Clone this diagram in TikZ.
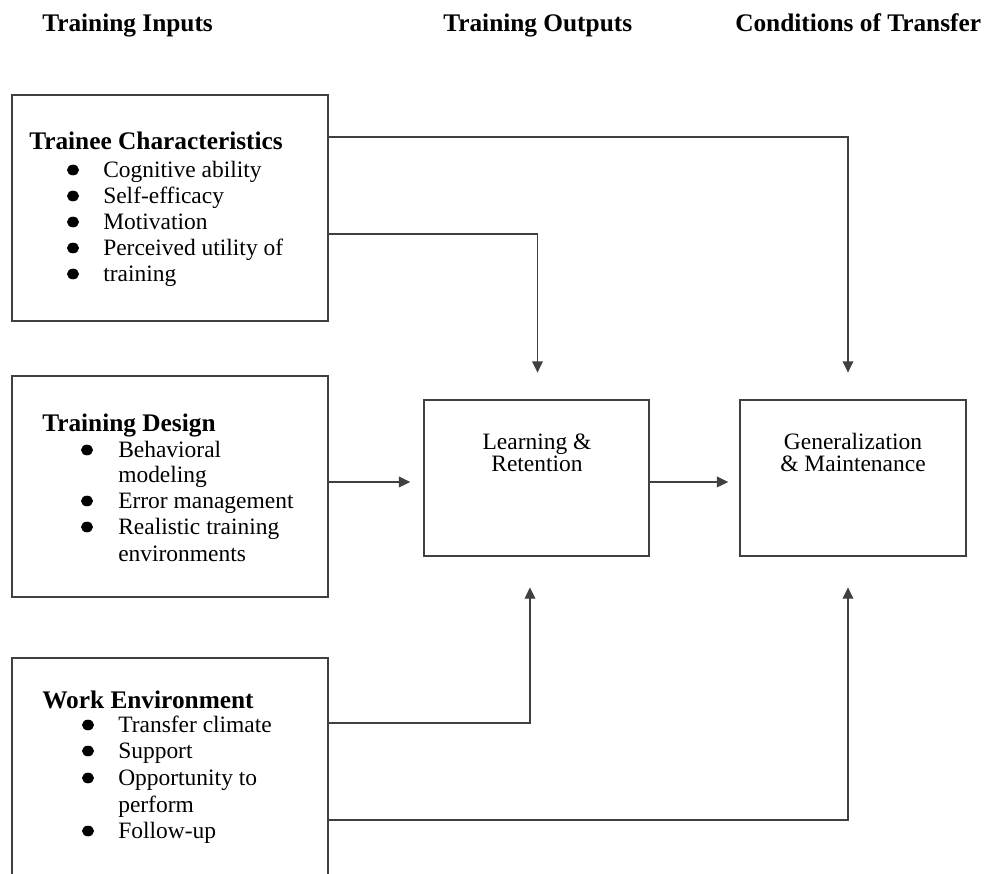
\documentclass[tikz,border=0pt]{standalone}
\usepackage{fontspec}
\setmainfont{Liberation Serif}
\usetikzlibrary{arrows.meta,shapes.geometric}
\begin{document}
\begin{tikzpicture}[x=0.75pt,y=-0.75pt,
  box/.style={draw=black!75, line width=1.1pt, inner sep=0pt},
  link/.style={draw=black!75, line width=1.1pt},
  arr/.style={link, -{Triangle[length=8.5pt,width=8pt]}},
  head/.style={anchor=base west, inner sep=0pt, font=\fontsize{19}{21}\selectfont\bfseries},
  itemtext/.style={anchor=base west, inner sep=0pt, font=\fontsize{17.6}{19.4}\selectfont},
  midtext/.style={anchor=base, inner sep=0pt, font=\fontsize{17.6}{19.4}\selectfont},
  dot/.style={ellipse, fill=black, inner sep=0pt, minimum width=9pt, minimum height=8pt}
]
\clip (0,0) rectangle (986,874);
\fill[white] (0,0) rectangle (986,874);

% column headings
\node[head] (h1) at (42,32) {Training Inputs};
\node[head] (h2) at (443,32) {Training Outputs};
\node[head] (h3) at (735,32) {Conditions of Transfer};

% input boxes
\node[box, minimum width=237pt, minimum height=169.5pt] (tc) at (170,208) {};
\node[box, minimum width=237pt, minimum height=165.75pt] (td) at (170,486.5) {};
\node[box, minimum width=237pt, minimum height=181.5pt] (we) at (170,779) {};

% output boxes
\node[box, minimum width=168.75pt, minimum height=117pt] (lr) at (536.5,478) {};
\node[box, minimum width=169.5pt, minimum height=117pt] (gm) at (853,478) {};

% Trainee Characteristics
\node[head] (tct) at (29,150) {Trainee Characteristics};
\node[dot] (b11) at (73,170) {};
\node[itemtext] (i11) at (103,177) {Cognitive ability};
\node[dot] (b12) at (73,196) {};
\node[itemtext] (i12) at (103,203) {Self-efficacy};
\node[dot] (b13) at (73,222) {};
\node[itemtext] (i13) at (103,229) {Motivation};
\node[dot] (b14) at (73,248) {};
\node[itemtext] (i14) at (103,255) {Perceived utility of};
\node[dot] (b15) at (73,274) {};
\node[itemtext] (i15) at (103,281) {training};

% Training Design
\node[head] (tdt) at (42,431) {Training Design};
\node[dot] (b21) at (87,450) {};
\node[itemtext] (i21) at (118,457) {Behavioral};
\node[itemtext] (i21b) at (118,482) {modeling};
\node[dot] (b22) at (87,501) {};
\node[itemtext] (i22) at (118,508) {Error management};
\node[dot] (b23) at (87,527) {};
\node[itemtext] (i23) at (118,534) {Realistic training};
\node[itemtext] (i23b) at (118,561) {environments};

% Work Environment
\node[head] (wet) at (42,708) {Work Environment};
\node[dot] (b31) at (88,725) {};
\node[itemtext] (i31) at (118,732) {Transfer climate};
\node[dot] (b32) at (88,751) {};
\node[itemtext] (i32) at (118,758) {Support};
\node[dot] (b33) at (88,778) {};
\node[itemtext] (i33) at (118,785) {Opportunity to};
\node[itemtext] (i33b) at (118,812) {perform};
\node[dot] (b34) at (88,831) {};
\node[itemtext] (i34) at (118,838) {Follow-up};

% output box labels
\node[midtext] (lr1) at (537,449) {Learning \&};
\node[midtext] (lr2) at (537,471) {Retention};
\node[midtext] (gm1) at (853,449) {Generalization};
\node[midtext] (gm2) at (853,471) {\& Maintenance};

% connectors
\draw[arr, shorten >=20pt] ([yshift=53.25pt]tc.east) -| ([xshift=-3.75pt]gm.north);
\draw[arr, shorten >=20pt] ([yshift=-19.5pt]tc.east) -| ([xshift=0.75pt]lr.north);
\path ([yshift=3.4pt]td.east) coordinate (tdout);
\draw[arr, shorten >=9.75pt] (tdout) -- (lr.west |- tdout);
\draw[arr, shorten >=8.25pt] (lr.east |- tdout) -- (gm.west |- tdout);
\draw[arr, shorten >=23pt] ([yshift=42pt]we.east) -| ([xshift=-4.9pt]lr.south);
\draw[arr, shorten >=23pt] ([yshift=-30.75pt]we.east) -| ([xshift=-3.75pt]gm.south);
\end{tikzpicture}
\end{document}
